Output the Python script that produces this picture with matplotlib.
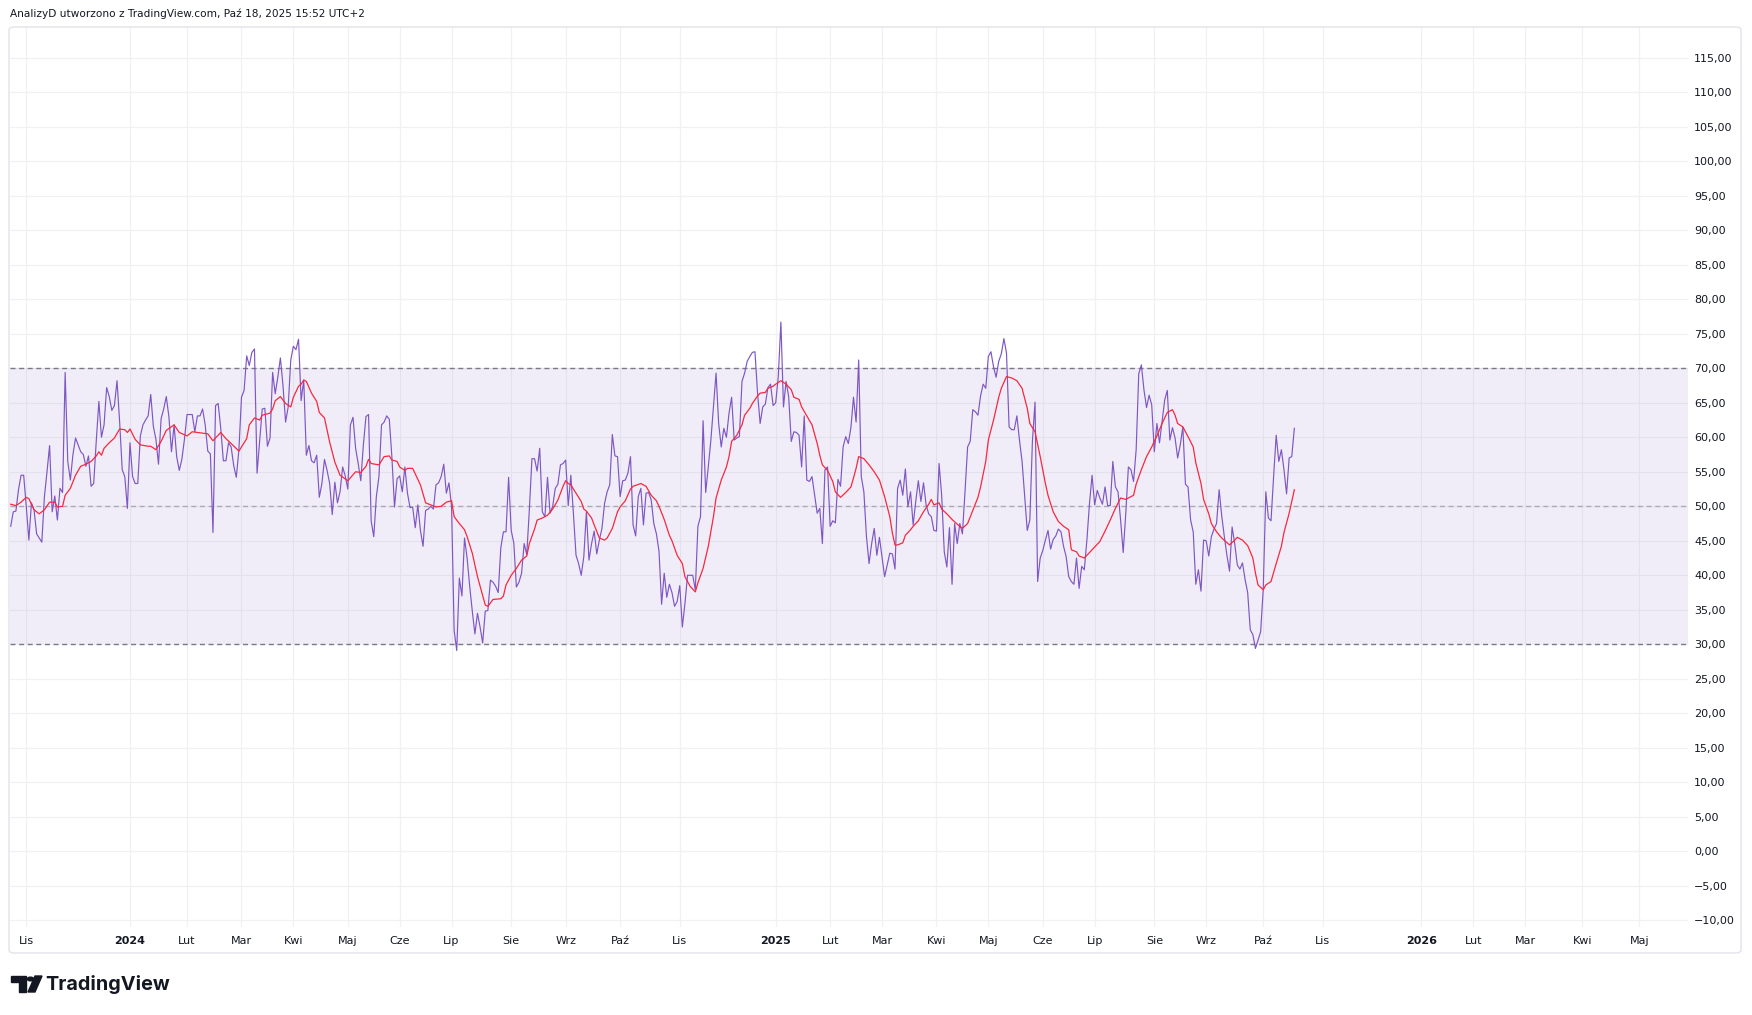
import numpy as np
import pandas as pd
import matplotlib
matplotlib.use("Agg")
import matplotlib.pyplot as plt
from matplotlib.patches import Circle, Polygon, FancyBboxPatch

# ---------------- data ----------------
FIRST_SESSION = "2023-10-24"
LAST_CALENDAR_DAY = "2026-06-30"
GPW_HOLIDAYS = [
    "2023-11-01", "2023-12-25", "2023-12-26",
    "2024-01-01", "2024-03-29", "2024-04-01", "2024-05-01", "2024-05-03",
    "2024-05-30", "2024-08-15", "2024-11-01", "2024-11-11", "2024-12-24",
    "2024-12-25", "2024-12-26", "2024-12-31",
    "2025-01-01", "2025-01-06", "2025-04-18", "2025-04-21", "2025-05-01",
    "2025-06-19", "2025-08-15", "2025-11-11", "2025-12-24", "2025-12-25",
    "2025-12-26", "2025-12-31", "2026-01-01", "2026-01-06", "2026-05-01",
]
MONTHS_PL = ["Sty", "Lut", "Mar", "Kwi", "Maj", "Cze", "Lip", "Sie", "Wrz", "Paź", "Lis", "Gru"]
TICK_FROM = (2023, 11)
TICK_TO = (2026, 5)
SKIPPED_MONTHS = [12]

# RSI, one value per trading session starting at FIRST_SESSION
rsi = [
    47.1, 49.2, 49.3, 52.4, 54.5, 54.5, 50.0, 45.1, 50.5, 49.5, 46.0, 45.4, 44.8, 51.4, 55.0, 58.8,
    49.2, 51.5, 48.0, 52.6, 52.0, 69.4, 56.5, 53.8, 57.5, 59.9, 58.9, 57.9, 57.5, 55.8, 57.3, 52.9,
    53.3, 59.5, 65.2, 60.0, 61.8, 67.2, 65.9, 63.9, 64.6, 68.2, 62.3, 55.3, 54.3, 49.7, 59.2, 54.3,
    53.3, 53.3, 60.2, 61.8, 62.5, 63.1, 66.2, 61.6, 59.7, 56.1, 62.7, 64.1, 65.9, 63.0, 57.9, 61.8,
    57.2, 55.2, 56.8, 59.7, 63.3, 63.3, 63.3, 60.8, 63.1, 63.1, 64.1, 61.8, 58.0, 57.6, 46.2, 64.6,
    64.9, 61.3, 56.6, 56.6, 59.2, 58.6, 55.9, 54.2, 58.2, 65.8, 66.8, 71.8, 70.4, 72.3, 72.8, 54.8,
    59.4, 64.1, 64.2, 58.7, 59.9, 69.4, 66.3, 68.7, 71.5, 67.5, 62.2, 64.4, 71.2, 73.2, 72.7, 74.2,
    65.3, 68.3, 57.4, 58.8, 56.6, 56.3, 57.4, 51.3, 53.3, 56.8, 55.2, 53.3, 48.8, 53.5, 50.5, 52.1,
    55.7, 54.4, 52.5, 61.8, 62.9, 58.4, 56.2, 53.7, 58.9, 63.0, 63.3, 47.9, 45.6, 51.4, 54.3, 61.8,
    62.2, 63.1, 62.6, 57.1, 49.9, 54.0, 54.4, 52.1, 55.7, 51.9, 49.8, 49.9, 46.9, 50.2, 46.5, 44.2,
    49.4, 49.6, 50.0, 49.6, 53.1, 53.4, 54.3, 56.1, 51.9, 53.4, 50.0, 32.0, 29.1, 39.6, 37.0, 45.4,
    42.5, 38.4, 34.8, 31.5, 34.5, 32.5, 30.2, 34.8, 34.9, 39.3, 39.0, 38.4, 37.5, 44.0, 46.3, 46.3,
    54.2, 46.5, 44.7, 38.3, 39.0, 40.3, 44.6, 43.0, 49.5, 56.9, 56.9, 55.1, 58.4, 49.2, 48.5, 54.2,
    49.0, 50.0, 52.6, 53.2, 56.0, 56.2, 56.7, 50.1, 54.5, 48.9, 42.9, 41.7, 40.0, 42.7, 49.2, 42.2,
    44.6, 46.4, 43.1, 45.1, 46.8, 50.4, 52.1, 53.1, 60.4, 57.3, 57.2, 51.4, 53.7, 53.8, 54.8, 57.2,
    47.3, 45.7, 51.4, 52.6, 47.3, 51.9, 52.0, 50.9, 47.5, 46.0, 43.5, 35.8, 40.3, 36.8, 38.7, 37.5,
    35.5, 36.2, 38.5, 32.5, 35.9, 40.0, 40.0, 40.0, 37.9, 47.1, 48.5, 62.4, 52.0, 55.7, 59.6, 64.4,
    69.3, 62.0, 58.6, 61.3, 60.0, 63.5, 65.8, 59.6, 59.9, 60.1, 68.1, 69.3, 71.0, 71.7, 72.3, 72.4,
    66.4, 62.0, 64.4, 64.8, 67.2, 67.7, 64.6, 65.0, 68.8, 76.7, 64.4, 68.1, 65.9, 59.4, 60.8, 60.7,
    60.3, 55.7, 63.1, 53.8, 53.6, 54.3, 51.6, 49.0, 49.7, 44.6, 55.3, 55.7, 47.1, 47.9, 47.6, 53.9,
    52.9, 58.6, 60.1, 59.1, 61.4, 65.8, 62.2, 71.2, 54.3, 52.1, 45.6, 41.7, 44.6, 46.8, 42.9, 45.5,
    42.7, 39.8, 41.5, 43.2, 43.1, 40.9, 52.6, 53.8, 51.6, 55.4, 49.9, 52.1, 47.3, 50.7, 53.7, 50.7,
    53.4, 50.2, 48.9, 48.5, 46.5, 46.4, 56.2, 51.6, 43.4, 41.2, 46.9, 38.7, 47.5, 44.6, 47.5, 46.0,
    52.1, 58.6, 59.4, 64.0, 63.7, 63.2, 66.0, 67.7, 67.1, 71.7, 72.4, 70.2, 68.7, 71.0, 72.1, 74.3,
    72.2, 61.5, 61.1, 61.1, 63.1, 59.6, 56.5, 51.4, 46.5, 48.0, 59.5, 65.1, 39.1, 42.5, 43.6, 45.1,
    46.5, 43.8, 45.2, 45.7, 46.7, 46.3, 44.2, 42.7, 39.8, 39.1, 38.7, 42.5, 38.1, 41.3, 40.8, 45.1,
    50.4, 54.5, 50.2, 52.3, 51.2, 50.3, 52.8, 50.1, 50.1, 56.5, 52.8, 52.1, 48.0, 43.3, 49.0, 55.7,
    55.3, 53.6, 58.2, 69.2, 70.5, 66.9, 64.3, 66.1, 64.7, 57.9, 62.0, 59.2, 62.3, 65.4, 66.8, 59.6,
    61.4, 59.9, 57.0, 58.9, 61.5, 53.2, 52.8, 48.0, 46.3, 38.7, 40.8, 37.7, 45.1, 45.0, 42.8, 45.6,
    46.7, 47.5, 52.4, 48.6, 45.6, 42.9, 40.6, 47.0, 44.6, 41.5, 40.9, 41.8, 39.4, 37.5, 32.1, 31.4,
    29.4, 30.6, 31.8, 37.9, 52.1, 48.3, 47.9, 54.3, 60.3, 56.5, 58.2, 55.3, 51.8, 57.0, 57.2, 61.3,
]

# RSI-based moving average, read at these session numbers (0 = FIRST_SESSION)
ma_session = [
    0, 2, 4, 6, 7, 9, 11, 13, 15, 17, 18, 20, 21, 23, 25, 27, 29, 31, 33, 34, 35, 36, 38, 40, 42, 44,
    45, 46, 48, 50, 53, 54, 56, 58, 60, 63, 65, 68, 70, 74, 76, 78, 81, 83, 85, 88, 89, 91, 92, 94,
    96, 97, 100, 101, 102, 104, 106, 108, 109, 111, 112, 113, 114, 116, 118, 119, 121, 123, 125,
    127, 130, 133, 135, 137, 138, 139, 142, 144, 146, 147, 149, 150, 152, 153, 155, 156, 158, 160,
    162, 164, 166, 168, 170, 171, 173, 175, 176, 178, 180, 182, 183, 184, 186, 189, 190, 191, 193,
    195, 197, 199, 200, 202, 203, 205, 207, 209, 211, 213, 214, 215, 216, 218, 220, 221, 222, 224,
    225, 227, 229, 230, 232, 234, 235, 237, 239, 240, 243, 245, 247, 249,
    250, 252, 254, 255, 257, 259, 260, 262, 264, 265, 267, 269, 271, 272, 274, 276, 277, 278, 280,
    282, 283, 285, 286, 288, 289, 291, 292, 294, 295, 297, 299, 301, 302, 304, 305, 307, 309, 311,
    312, 313, 315, 317, 318, 320, 322, 324, 325, 326, 327, 329, 331, 333, 335, 337, 339, 340, 341,
    342, 344, 345, 347, 348, 350, 352, 354, 355, 356, 358, 359, 361, 363, 365, 367, 369, 371, 373,
    374, 376, 377, 379, 381, 382, 384, 386, 388, 390, 392, 393, 395, 397, 399, 400, 402, 404, 406,
    408, 409, 411, 412, 414, 416, 418, 420, 422, 424, 426, 428, 430, 433, 434, 436, 438, 440, 442,
    444, 446, 448, 449, 450, 452, 454, 456, 457, 459, 460, 462, 463, 465, 467, 470, 472, 473, 475,
    477, 479, 480, 481, 483, 484, 486, 488, 490, 491, 493, 495,
]
ma_value = [
    50.3, 50.1, 50.6, 51.3, 51.1, 49.5, 48.9, 49.5, 50.6, 50.6, 49.9, 50.0, 51.6, 52.6, 54.5, 55.8,
    56.1, 56.5, 57.3, 57.9, 57.4, 58.4, 59.2, 59.9, 61.2, 61.1, 60.7, 61.2, 59.7, 58.9, 58.7, 58.7,
    58.2, 59.4, 61.0, 61.8, 60.7, 60.2, 60.8, 60.6, 60.5, 59.5, 60.7, 59.8, 59.1, 58.0, 58.6, 59.8,
    61.8, 62.8, 62.5, 63.2, 63.5, 64.1, 65.3, 65.9, 64.9, 64.4, 65.8, 67.4, 67.7, 68.3, 68.1, 66.4,
    65.2, 63.6, 62.8, 59.3, 56.4,
    54.5, 53.7, 55.0, 54.9, 55.8, 56.8, 56.2, 56.0, 57.2, 57.3, 56.7, 56.5, 55.7, 55.2, 55.5, 55.5,
    54.7, 53.1, 50.5, 50.2, 49.9, 50.0, 50.6, 50.8, 48.5, 47.5, 46.6, 45.6, 43.2, 39.8, 37.1, 35.7,
    35.5, 36.5, 36.6, 37.0, 38.6, 40.0, 41.0, 42.2, 42.8, 44.6, 46.7, 48.0, 48.3, 48.7, 49.6, 50.9,
    52.9, 53.7, 53.3, 53.1, 51.9, 50.7, 49.6, 49.3, 48.3, 47.3, 45.4, 45.1, 45.4, 46.8, 49.2, 49.9,
    50.8, 52.5, 52.9, 53.3, 52.9, 51.6, 50.8,
    50.0, 48.1, 45.8, 45.0, 42.9, 41.7, 39.8, 38.4, 37.6, 38.9, 41.0, 44.2, 48.5, 51.2, 53.8, 55.7,
    57.2, 59.4, 60.3, 61.8, 63.2, 64.2, 64.9, 66.0, 66.4, 66.5, 67.1, 67.4, 67.7, 68.2, 67.7, 66.9,
    65.8, 65.5, 64.4, 63.1, 61.8, 59.1, 57.4, 56.0, 55.2, 53.6, 52.1, 51.3, 52.0, 52.8, 54.1, 55.5,
    57.2, 56.9, 56.0, 55.0, 53.8, 51.4, 48.5, 46.1, 44.4, 44.4, 44.7, 45.8, 46.6, 47.1, 47.9, 49.2,
    50.3, 51.0, 50.2, 50.5, 49.6, 48.9, 48.1, 47.4, 46.8, 47.5, 49.4, 51.3,
    52.8, 56.5, 59.6, 62.5, 65.8, 67.1, 68.8, 68.6, 68.2, 67.1, 64.2, 62.0, 60.8, 57.2, 53.3, 51.6,
    49.2, 47.8, 47.1, 46.6, 43.7, 43.4, 42.8, 42.5, 43.3, 44.1, 44.9, 46.4, 48.0, 49.7, 51.2, 51.0,
    51.6, 53.2, 55.3, 57.2, 58.6, 60.2, 62.0, 63.6, 64.0, 63.2, 62.0, 61.5, 60.1, 58.6, 56.3, 53.3,
    51.0, 48.9, 47.5, 46.3, 45.4, 44.4, 45.1, 45.5, 45.1, 44.3, 42.5, 40.3, 38.6, 37.9, 38.6, 39.1,
    41.7, 44.2, 46.2, 49.0, 52.4,
]

band_upper, band_middle, band_lower = 70, 50, 30
y_ticks = list(range(-10, 120, 5))

header = "AnalizyD utworzono z TradingView.com, Paź 18, 2025 15:52 UTC+2"
brand = "TradingView"

# ---------------- styling ----------------
W, H = 1752, 1015
C_RSI = "#7E57C2"
C_MA = "#F7283F"
C_BAND = "#787B86"
C_GRID = "#F0F1F5"
C_TEXT = "#131722"

fig = plt.figure(figsize=(W / 100, H / 100), dpi=100)
fig.patch.set_facecolor("white")


def fx(px):
    return px / W


def fy(py):
    return 1 - py / H


ax = fig.add_axes([fx(10), fy(927), fx(1688) - fx(10), fy(27) - fy(927)])

sessions = pd.bdate_range(FIRST_SESSION, LAST_CALENDAR_DAY, freq="C", holidays=GPW_HOLIDAYS)
sess_idx = pd.Series(np.arange(len(sessions)), index=sessions)

x_rsi = np.arange(len(rsi))
ax.axhspan(band_lower, band_upper, color=C_RSI, alpha=0.1, lw=0, zorder=1)
ax.axhline(band_upper, color=C_BAND, lw=1.0, dashes=(3.6, 2.6), zorder=2)
ax.axhline(band_lower, color=C_BAND, lw=1.0, dashes=(3.6, 2.6), zorder=2)
ax.axhline(band_middle, color=C_BAND, alpha=0.55, lw=1.0, dashes=(3.6, 2.6), zorder=2)
ax.plot(x_rsi, rsi, color=C_RSI, lw=0.85, zorder=4, solid_joinstyle="round")
ax.plot(ma_session, ma_value, color=C_MA, lw=0.9, zorder=5, solid_joinstyle="round")

# month ticks: first session of each month
firsts = sess_idx.groupby([sessions.year, sessions.month]).first()
tick_pos, tick_lab, tick_bold = [], [], []
for (yr, mo), idx in firsts.items():
    if (yr, mo) < TICK_FROM or (yr, mo) > TICK_TO or mo in SKIPPED_MONTHS:
        continue
    tick_pos.append(idx)
    if mo == 1:
        tick_lab.append(str(yr))
        tick_bold.append(True)
    else:
        tick_lab.append(MONTHS_PL[mo - 1])
        tick_bold.append(False)

ax.set_xticks(tick_pos)
ax.set_xticklabels(tick_lab)
for lab, b in zip(ax.get_xticklabels(), tick_bold):
    lab.set_fontweight("bold" if b else "normal")

ax.set_yticks(y_ticks)
ax.set_yticklabels([f"{v:.2f}".replace(".", ",").replace("-", "\u2212") for v in y_ticks])
ax.yaxis.tick_right()

ax.set_xlim(-0.27, 646.8)
ax.set_ylim(-10.97, 119.46)

ax.grid(True, color=C_GRID, lw=0.9, zorder=0)
ax.set_axisbelow(True)
ax.tick_params(axis="x", length=0, pad=6.5, labelsize=8, labelcolor=C_TEXT)
ax.tick_params(axis="y", length=0, pad=4.3, labelsize=8, labelcolor=C_TEXT)
for sp in ax.spines.values():
    sp.set_visible(False)

# pane border
border = FancyBboxPatch((fx(9), fy(953)), fx(1741) - fx(9), fy(27) - fy(953),
                        boxstyle="round,pad=0,rounding_size=0.003",
                        transform=fig.transFigure, fill=False, edgecolor="#E0E3EB", lw=1.0)
fig.patches.append(border)

# header
fig.text(fx(10), fy(14), header, ha="left", va="center", fontsize=7.6, color=C_TEXT)

# TradingView logo
logo_c = "#131722"
fig.patches.append(Polygon([(fx(11), fy(976)), (fx(26), fy(976)), (fx(26), fy(992)),
                            (fx(19), fy(992)), (fx(19), fy(982)), (fx(11), fy(982))],
                           closed=True, transform=fig.transFigure, color=logo_c))
fig.patches.append(Circle((fx(30.5), fy(979)), 3.2 / W, transform=fig.transFigure, color=logo_c))
fig.patches.append(Polygon([(fx(28), fy(992)), (fx(35), fy(992)), (fx(42), fy(976)), (fx(35), fy(976))],
                           closed=True, transform=fig.transFigure, color=logo_c))
fig.text(fx(45), fy(984), brand, ha="left", va="center", fontsize=14.3, fontweight="bold",
         color=logo_c, family=["Inter", "DejaVu Sans"])

fig.savefig("out.png", dpi=100, facecolor="white")
